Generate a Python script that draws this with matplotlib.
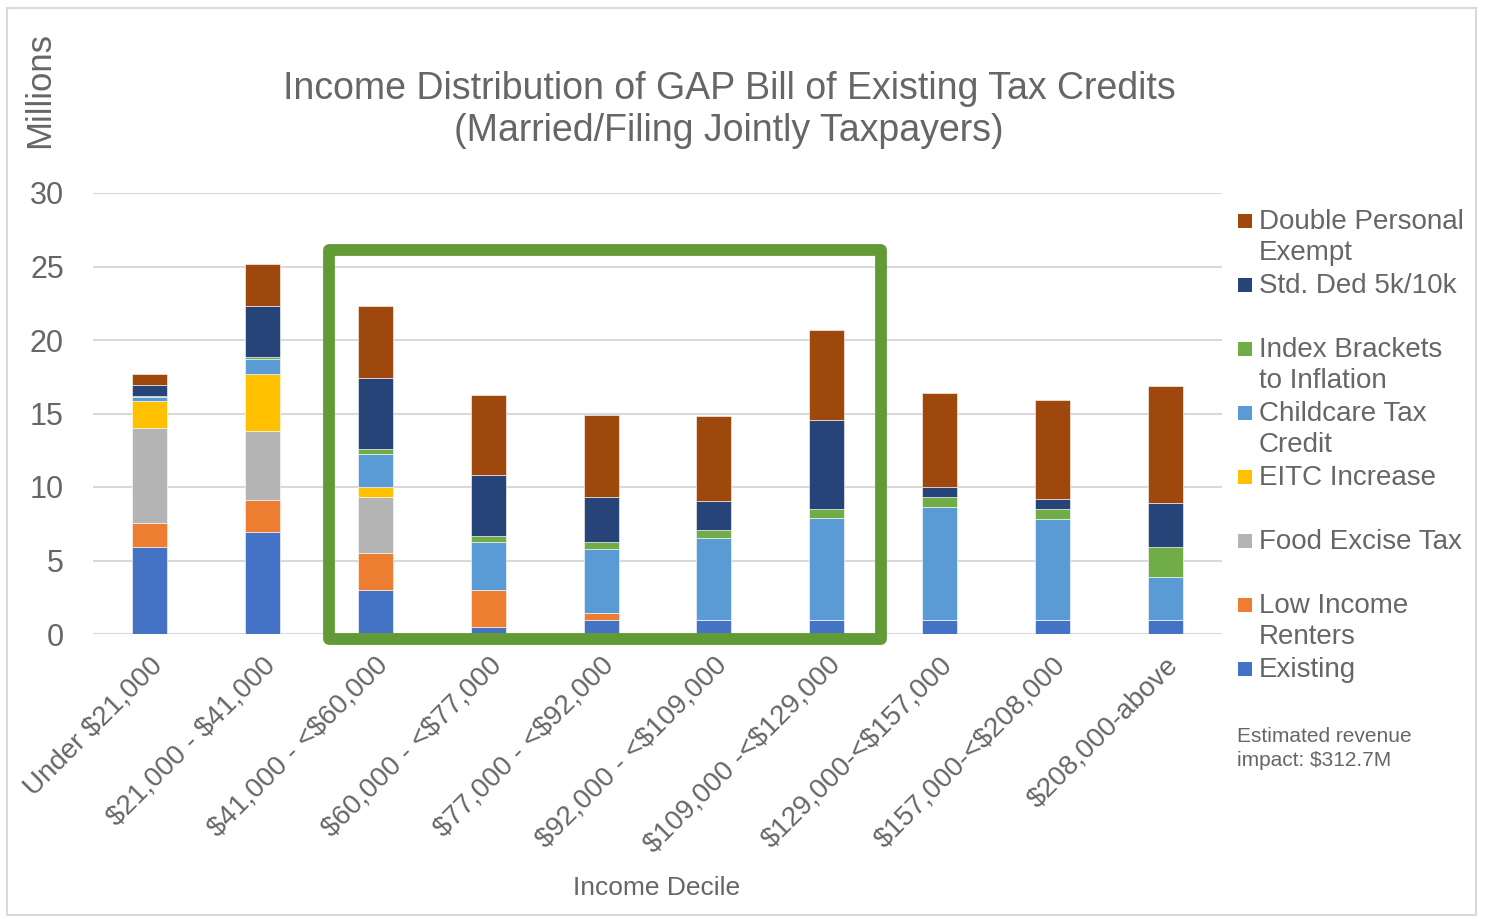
import numpy as np
import matplotlib
matplotlib.use("Agg")
import matplotlib.pyplot as plt
from matplotlib.patches import Rectangle

plt.rcParams["font.family"] = ["Liberation Sans", "DejaVu Sans"]

# ---- data (millions) ----
deciles = ["Under \\$21,000", "\\$21,000 - \\$41,000", "\\$41,000 - <\\$60,000",
           "\\$60,000 - <\\$77,000", "\\$77,000 - <\\$92,000", "\\$92,000 - <\\$109,000",
           "\\$109,000 -<\\$129,000", "\\$129,000-<\\$157,000", "\\$157,000-<\\$208,000",
           "\\$208,000-above"]

existing   = [5.94, 6.96, 2.97, 0.48, 0.97, 0.97, 0.97, 0.97, 0.97, 0.97]
low_income = [1.64, 2.18, 2.54, 2.51, 0.44, 0.00, 0.00, 0.00, 0.00, 0.00]
food_tax   = [6.46, 4.67, 3.79, 0.00, 0.00, 0.00, 0.00, 0.00, 0.00, 0.00]
eitc       = [1.83, 3.88, 0.70, 0.00, 0.00, 0.00, 0.00, 0.00, 0.00, 0.00]
childcare  = [0.25, 1.00, 2.24, 3.25, 4.39, 5.56, 6.94, 7.65, 6.83, 2.89]
index_brk  = [0.05, 0.15, 0.32, 0.45, 0.48, 0.52, 0.59, 0.70, 0.73, 2.06]
std_ded    = [0.80, 3.49, 4.85, 4.15, 3.02, 1.97, 6.08, 0.66, 0.63, 3.01]
double_pe  = [0.70, 2.86, 4.90, 5.40, 5.60, 5.79, 6.10, 6.39, 6.74, 7.94]

series = [
    ("Existing", existing, "#4472C4"),
    ("Low Income\nRenters", low_income, "#ED7D31"),
    ("Food Excise Tax", food_tax, "#B4B4B4"),
    ("EITC Increase", eitc, "#FFC000"),
    ("Childcare Tax\nCredit", childcare, "#5B9BD5"),
    ("Index Brackets\nto Inflation", index_brk, "#70AD47"),
    ("Std. Ded 5k/10k", std_ded, "#264478"),
    ("Double Personal\nExempt", double_pe, "#9E480E"),
]

TXT = "#666666"
W, H = 1485, 919

fig = plt.figure(figsize=(W / 100, H / 100), dpi=100, facecolor="white")
ax = fig.add_axes([93 / W, 1 - 634 / H, (1222 - 93) / W, (634 - 193) / H])

x = np.arange(len(deciles))
bottom = np.zeros(len(deciles))
for name, vals, col in series:
    ax.bar(x, vals, width=0.31, bottom=bottom, color=col,
           edgecolor="white", linewidth=0.4, zorder=3)
    bottom += np.array(vals)

ax.set_xlim(-0.5, len(deciles) - 0.5)
ax.set_ylim(0, 30)
ax.set_yticks(range(0, 31, 5))
ax.yaxis.grid(True, color="#d9d9d9", linewidth=1.5, zorder=0)
ax.set_axisbelow(True)
for s in ax.spines.values():
    s.set_visible(False)
ax.tick_params(axis="y", length=0, pad=21, labelsize=22, labelcolor=TXT)
ax.tick_params(axis="x", length=0, pad=13, labelsize=20, labelcolor=TXT)
ax.set_xticks(x)
ax.set_xticklabels(deciles, rotation=45, ha="right", va="top",
                   rotation_mode="anchor")
ax.set_xlabel("Income Decile", fontsize=19, color=TXT, labelpad=0)
ax.xaxis.set_label_coords(657 / W, 1 - 876 / H, transform=fig.transFigure)

# highlight box around the middle deciles
ax.add_patch(Rectangle((1.588, -0.34), 6.482 - 1.588, 26.12 + 0.34,
                       fill=False, edgecolor="#629B36", linewidth=8.5,
                       joinstyle="round", clip_on=False, zorder=5))

fig.text(729 / W, 1 - 110 / H,
         "Income Distribution of GAP Bill of Existing Tax Credits\n"
         "(Married/Filing Jointly Taxpayers)",
         ha="center", va="center", fontsize=27, color=TXT, linespacing=1.22)
fig.text(40 / W, 1 - 90 / H, "Millions", rotation=90, ha="center",
         va="center", fontsize=25, color=TXT)

# legend (reverse order, Excel style)
ys = [221, 285, 349, 413, 477, 541, 605, 669]
for (name, vals, col), yp in zip(series[::-1], ys):
    fig.patches.append(Rectangle((1238 / W, 1 - (yp + 7) / H), 14 / W, 14 / H,
                                 facecolor=col, edgecolor="none",
                                 transform=fig.transFigure))
    fig.text(1259 / W, 1 - (yp - 12) / H, name, ha="left", va="top",
             fontsize=20, color=TXT, linespacing=1.27)

fig.text(1237 / W, 1 - 727 / H, "Estimated revenue\nimpact: \\$312.7M",
         ha="left", va="top", fontsize=15, color=TXT, linespacing=1.35)

# chart border
fig.patches.append(Rectangle((7 / W, 1 - 915 / H), (1476 - 7) / W, (915 - 8) / H,
                             fill=False, edgecolor="#d9d9d9", linewidth=1.5,
                             transform=fig.transFigure))

fig.savefig("out.png", dpi=100, facecolor="white")
